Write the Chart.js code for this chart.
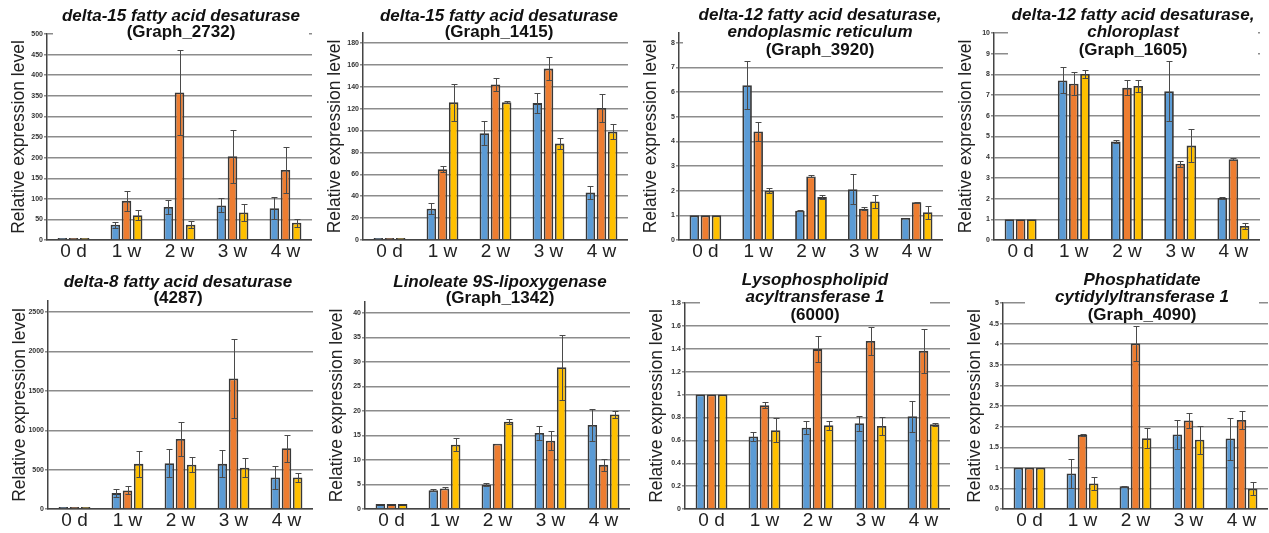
<!DOCTYPE html>
<html>
<head>
<meta charset="utf-8">
<script src="https://cdn.jsdelivr.net/npm/chart.js@4.4.1/dist/chart.umd.min.js"></script>
<style>
  body { margin: 0; background: #fff; }
  #painel { position: relative; width: 1269px; height: 533px; overflow: hidden; background: #fff; }
  #painel canvas { position: absolute; }
</style>
</head>
<body>
<div id="painel"></div>
<script>
const categories = ['0 d', '1 w', '2 w', '3 w', '4 w'];
const yTitle = 'Relative expression level';

// Graph_2732
const title2732 = ['delta-15 fatty acid desaturase', '(Graph_2732)'];
const mean2732 = [[1, 37, 80, 84, 77], [1, 95, 358, 203, 170], [1, 60, 37, 67, 42]];
const err2732 = [[0, 7, 16, 17, 27], [0, 24, 102, 65, 55], [0, 12, 9, 21, 10]];
const ticks2732 = [0, 50, 100, 150, 200, 250, 300, 350, 400, 450, 500];
const max2732 = 500;

// Graph_1415
const title1415 = ['delta-15 fatty acid desaturase', '(Graph_1415)'];
const mean1415 = [[1, 28.5, 97.5, 125, 43.3], [1, 64.7, 142, 156.5, 120.5], [1, 125.7, 125.7, 88, 98.8]];
const err1415 = [[0, 5, 11, 9, 6], [0, 2.5, 6, 10.5, 13], [0, 17, 1, 5, 7]];
const ticks1415 = [0, 20, 40, 60, 80, 100, 120, 140, 160, 180];
const max1415 = 189;

// Graph_3920
const title3920 = ['delta-12 fatty acid desaturase,', 'endoplasmic reticulum', '(Graph_3920)'];
const mean3920 = [[1, 6.28, 1.19, 2.06, 0.89], [1, 4.4, 2.58, 1.27, 1.53], [1, 2.0, 1.74, 1.56, 1.13]];
const err3920 = [[0, 0.97, 0.03, 0.6, 0], [0, 0.37, 0.04, 0.07, 0.03], [0, 0.1, 0.08, 0.25, 0.27]];
const ticks3920 = [0, 1, 2, 3, 4, 5, 6, 7, 8];
const max3920 = 8.4;

// Graph_1605
const title1605 = ['delta-12 fatty acid desaturase,', 'chloroplast', '(Graph_1605)'];
const mean1605 = [[1, 7.71, 4.76, 7.18, 2.03], [1, 7.55, 7.35, 3.68, 3.9], [1, 8.02, 7.44, 4.56, 0.68]];
const err1605 = [[0, 0.63, 0.05, 1.45, 0.03], [0, 0.55, 0.36, 0.16, 0.04], [0, 0.21, 0.3, 0.8, 0.16]];
const ticks1605 = [0, 1, 2, 3, 4, 5, 6, 7, 8, 9, 10];
const max1605 = 10;

// 4287
const title4287 = ['delta-8 fatty acid desaturase', '(4287)'];
const mean4287 = [[5, 202, 582, 573, 400], [5, 236, 890, 1657, 771], [5, 573, 561, 523, 400]];
const err4287 = [[0, 50, 180, 173, 140], [0, 50, 220, 497, 169], [0, 165, 97, 122, 55]];
const ticks4287 = [0, 500, 1000, 1500, 2000, 2500];
const max4287 = 2640;

// Graph_1342
const title1342 = ['Linoleate 9S-lipoxygenase', '(Graph_1342)'];
const mean1342 = [[1, 3.8, 4.95, 15.5, 17.15], [1, 4.2, 13.3, 13.9, 9.0], [1, 13.1, 17.8, 28.9, 19.25]];
const err1342 = [[0, 0.2, 0.35, 1.4, 3.25], [0, 0.2, 0.05, 1.9, 1.2], [0, 1.3, 0.5, 6.6, 0.8]];
const ticks1342 = [0, 5, 10, 15, 20, 25, 30, 35, 40];
const max1342 = 42.2;

// 6000
const title6000 = ['Lysophospholipid', 'acyltransferase 1', '(6000)'];
const mean6000 = [[1, 0.633, 0.711, 0.749, 0.81], [1, 0.906, 1.397, 1.469, 1.382], [1, 0.688, 0.732, 0.726, 0.74]];
const err6000 = [[0, 0.043, 0.06, 0.067, 0.137], [0, 0.025, 0.116, 0.12, 0.19], [0, 0.105, 0.04, 0.08, 0.015]];
const ticks6000 = [0, 0.2, 0.4, 0.6, 0.8, 1, 1.2, 1.4, 1.6, 1.8];
const max6000 = 1.8;

// Graph_4090
const title4090 = ['Phosphatidate', 'cytidylyltransferase 1', '(Graph_4090)'];
const mean4090 = [[1, 0.86, 0.55, 1.81, 1.71], [1, 1.8, 4.02, 2.15, 2.16], [1, 0.62, 1.72, 1.68, 0.49]];
const err4090 = [[0, 0.35, 0.01, 0.36, 0.51], [0, 0.03, 0.42, 0.19, 0.23], [0, 0.16, 0.24, 0.34, 0.16]];
const ticks4090 = [0, 0.5, 1, 1.5, 2, 2.5, 3, 3.5, 4, 4.5, 5];
const max4090 = 5;

const barColors = ['#5b9bd5', '#ed7d31', '#ffc000'];
const fonte = '"Liberation Sans", Arial, sans-serif';

// posicoes na pagina (px): eixo y, borda direita, topo do grafico, titulo
const paineis = [
  { title: title2732, mean: mean2732, err: err2732, ticks: ticks2732, max: max2732, row: 0, axisX: 47, right: 312, top: 34, cx: 181, ys: [16, 32], half: 128 },
  { title: title1415, mean: mean1415, err: err1415, ticks: ticks1415, max: max1415, row: 0, axisX: 363, right: 628, top: 33, cx: 499, ys: [16, 32], half: 125 },
  { title: title3920, mean: mean3920, err: err3920, ticks: ticks3920, max: max3920, row: 0, axisX: 679, right: 943, top: 33, cx: 820, ys: [15, 32, 50], half: 137 },
  { title: title1605, mean: mean1605, err: err1605, ticks: ticks1605, max: max1605, row: 0, axisX: 994, right: 1260, top: 33, cx: 1133, ys: [15, 32, 50], half: 125 },
  { title: title4287, mean: mean4287, err: err4287, ticks: ticks4287, max: max4287, row: 1, axisX: 48, right: 313, top: 301, cx: 178, ys: [282, 298], half: 120 },
  { title: title1342, mean: mean1342, err: err1342, ticks: ticks1342, max: max1342, row: 1, axisX: 365, right: 630, top: 302, cx: 500, ys: [282, 298], half: 120 },
  { title: title6000, mean: mean6000, err: err6000, ticks: ticks6000, max: max6000, row: 1, axisX: 685, right: 950, top: 303, cx: 815, ys: [280, 297, 315], half: 115 },
  { title: title4090, mean: mean4090, err: err4090, ticks: ticks4090, max: max4090, row: 1, axisX: 1003, right: 1268, top: 303, cx: 1142, ys: [280, 297, 315], half: 117 }
];
const linhas = [{ top: 0, bottom: 240, height: 265 }, { top: 265, bottom: 509, height: 268 }];

const errorBars = {
  id: 'errorBars',
  afterDatasetsDraw(chart) {
    const ctx = chart.ctx;
    const y = chart.scales.y;
    ctx.save();
    ctx.strokeStyle = '#4a4a4a';
    ctx.lineWidth = 1;
    chart.data.datasets.forEach((ds, i) => {
      chart.getDatasetMeta(i).data.forEach((bar, j) => {
        const e = ds.errors[j];
        if (!e) return;
        const v = ds.data[j];
        const x = Math.round(bar.x) + 0.5;
        const t = Math.round(y.getPixelForValue(v + e)) + 0.5;
        const b = Math.round(y.getPixelForValue(v - e)) + 0.5;
        ctx.beginPath();
        ctx.moveTo(x, t); ctx.lineTo(x, b);
        ctx.moveTo(x - 3, t); ctx.lineTo(x + 3, t);
        ctx.moveTo(x - 3, b); ctx.lineTo(x + 3, b);
        ctx.stroke();
      });
    });
    ctx.restore();
  }
};

// titulo com fundo branco por cima das linhas de grade
const panelTitle = {
  id: 'panelTitle',
  beforeDatasetsDraw(chart, args, opts) {
    const ctx = chart.ctx;
    const last = opts.ys[opts.ys.length - 1];
    ctx.save();
    ctx.fillStyle = '#fff';
    ctx.fillRect(opts.cx - opts.half, 0, opts.half * 2, last + 7);
    ctx.fillStyle = '#111';
    ctx.textAlign = 'center';
    ctx.textBaseline = 'middle';
    opts.lines.forEach((t, k) => {
      ctx.font = (t[0] === '(' ? '' : 'italic ') + 'bold 17px ' + fonte;
      ctx.fillText(t, opts.cx, opts.ys[k]);
    });
    ctx.restore();
  }
};

function desenharPainel(p) {
  const linha = linhas[p.row];
  const left = p.axisX - 50;
  const canvas = document.createElement('canvas');
  canvas.width = p.right - left;
  canvas.height = linha.height;
  canvas.style.left = left + 'px';
  canvas.style.top = linha.top + 'px';
  document.getElementById('painel').appendChild(canvas);

  new Chart(canvas, {
    type: 'bar',
    data: {
      labels: categories,
      datasets: p.mean.map((m, k) => ({
        data: m,
        errors: p.err[k],
        backgroundColor: barColors[k],
        borderColor: '#383838',
        borderWidth: 1.8,
        minBarLength: 2,
        categoryPercentage: 0.63,
        barPercentage: 0.86
      }))
    },
    options: {
      responsive: false,
      animation: false,
      devicePixelRatio: 1,
      layout: { padding: { top: p.top - linha.top, left: 0, right: 0, bottom: 0 } },
      plugins: {
        legend: { display: false },
        tooltip: { enabled: false },
        panelTitle: { lines: p.title, cx: p.cx - left, ys: p.ys.map(v => v - linha.top), half: p.half }
      },
      scales: {
        x: {
          grid: { display: false, drawTicks: false, tickLength: 0 },
          border: { display: true, color: '#444', width: 1.5 },
          ticks: { font: { family: fonte, size: 19, lineHeight: 1 }, color: '#222', padding: 2, maxRotation: 0, autoSkip: false },
          afterFit: s => { s.height = linha.height - (linha.bottom - linha.top); }
        },
        y: {
          min: 0,
          max: p.max,
          bounds: 'data',
          afterBuildTicks: s => { s.ticks = p.ticks.map(v => ({ value: v })); },
          ticks: { callback: v => String(v), font: { family: fonte, size: 7, weight: 'bold' }, color: '#333', padding: 1 },
          grid: { color: '#8c8c8c', lineWidth: 1.4, tickLength: 3 },
          border: { color: '#444', width: 1.5 },
          title: { display: true, text: yTitle, font: { family: fonte, size: 17.5 }, color: '#222', padding: { top: 12, bottom: 0 } },
          afterFit: s => { s.width = 50; }
        }
      }
    },
    plugins: [errorBars, panelTitle]
  });
}

paineis.forEach(desenharPainel);
</script>
</body>
</html>
